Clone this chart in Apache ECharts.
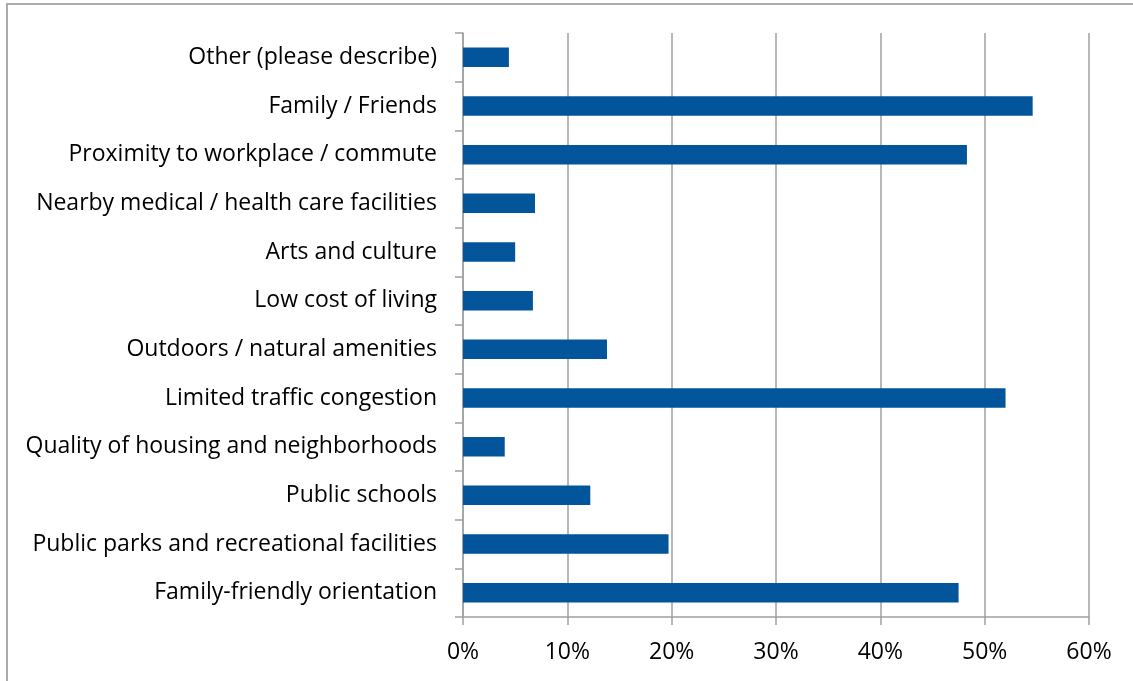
<!DOCTYPE html>
<html>
<head>
<meta charset="utf-8">
<script src="https://cdn.jsdelivr.net/npm/echarts@6/dist/echarts.min.js"></script>
<style>
html,body{margin:0;padding:0;background:#fff;}
#c{width:1133px;height:681px;}
</style>
</head>
<body>
<div id="c"></div>
<script>
const categories = [
  "Other (please describe)",
  "Family / Friends",
  "Proximity to workplace / commute",
  "Nearby medical / health care facilities",
  "Arts and culture",
  "Low cost of living",
  "Outdoors / natural amenities",
  "Limited traffic congestion",
  "Quality of housing and neighborhoods",
  "Public schools",
  "Public parks and recreational facilities",
  "Family-friendly orientation"
];
const values = [4.4, 54.6, 48.3, 6.9, 5.0, 6.7, 13.8, 52.0, 4.0, 12.2, 19.7, 47.5];
const xTicks = [0, 10, 20, 30, 40, 50, 60];

const chart = echarts.init(document.getElementById('c'), null, {renderer: 'canvas'});
const font = '"Open Sans", "Noto Sans", sans-serif';
chart.setOption({
  animation: false,
  backgroundColor: '#fff',
  graphic: [{
    type: 'rect',
    shape: {x: 7, y: 4, width: 3000, height: 3000},
    style: {fill: 'none', stroke: '#acacac', lineWidth: 2},
    silent: true,
    z: -1
  }],
  grid: {left: 463, right: 44, top: 33, bottom: 64, containLabel: false},
  xAxis: {
    type: 'value',
    min: xTicks[0],
    max: xTicks[xTicks.length - 1],
    interval: 10,
    axisLine: {show: true, lineStyle: {color: '#a0a0a0', width: 1.5}},
    axisTick: {show: true, length: 8, lineStyle: {color: '#a0a0a0', width: 1.5}},
    splitLine: {show: true, lineStyle: {color: '#a0a0a0', width: 1.5}},
    axisLabel: {
      formatter: '{value}%',
      color: '#000',
      fontFamily: font,
      fontSize: 23,
      margin: 24
    }
  },
  yAxis: {
    type: 'category',
    data: categories,
    inverse: true,
    axisLine: {show: true, lineStyle: {color: '#a0a0a0', width: 1.5}},
    axisTick: {show: true, length: 8, lineStyle: {color: '#a0a0a0', width: 1.5}},
    splitLine: {show: false},
    axisLabel: {
      color: '#000',
      fontFamily: font,
      fontSize: 23,
      margin: 26,
      padding: [3, 0, 0, 0]
    }
  },
  series: [{
    type: 'bar',
    data: values,
    barCategoryGap: '60%',
    itemStyle: {color: '#02549b'}
  }]
});
</script>
</body>
</html>
